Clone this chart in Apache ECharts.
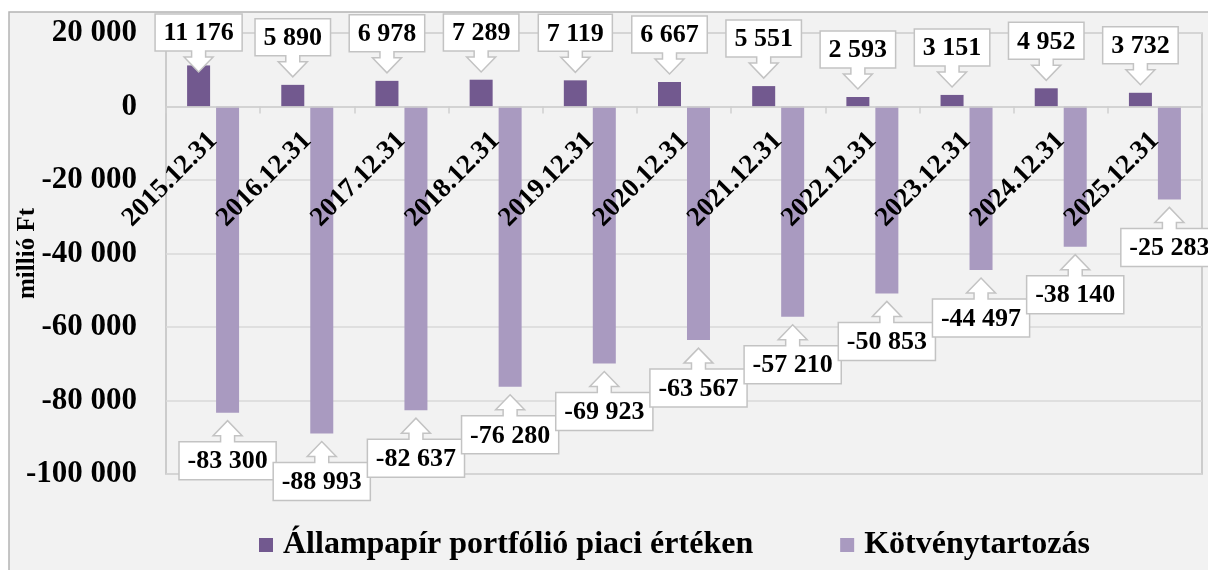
<!DOCTYPE html>
<html><head><meta charset="utf-8">
<script src="https://cdn.jsdelivr.net/npm/echarts@6/dist/echarts.min.js"></script>
<style>html,body{margin:0;padding:0;background:#fff;}#c{width:1208px;height:570px;}</style>
</head><body><div id="c"></div>
<script>
// ---- data ----
const categories = ['2015.12.31','2016.12.31','2017.12.31','2018.12.31','2019.12.31','2020.12.31','2021.12.31','2022.12.31','2023.12.31','2024.12.31','2025.12.31'];
const portfolio = [11176, 5890, 6978, 7289, 7119, 6667, 5551, 2593, 3151, 4952, 3732];
const bonds = [-83300, -88993, -82637, -76280, -69923, -63567, -57210, -50853, -44497, -38140, -25283];
const seriesNames = ['Állampapír portfólió piaci értéken', 'Kötvénytartozás'];
const yMin = -100000, yMax = 20000, yStep = 20000;
const yAxisName = 'millió Ft';

// ---- style ----
const FAM = '"Liberation Serif","Times New Roman",serif';
const C_DARK = '#72598f', C_LIGHT = '#a99ac0';
const BAR_W = 23, BAR_GAP_PCT = 26;
const BAR_OFF = (BAR_W + BAR_W * BAR_GAP_PCT / 100) / 2;
const LBL_FONT = 'bold 26px ' + FAM;
const GRID = { left: 166, right: 6, top: 33, bottom: 96 };
const GRID_H = 570 - GRID.top - GRID.bottom;
// move the category axis (line + labels) to the value 0
const X_OFFSET = -((0 - yMin) / (yMax - yMin)) * GRID_H;

function fmt(v) {
  const s = Math.abs(Math.round(v)).toString().replace(/\B(?=(\d{3})+(?!\d))/g, ' ');
  return (v < 0 ? '-' : '') + s;
}
const mctx = document.createElement('canvas').getContext('2d');
function textW(s) { mctx.font = LBL_FONT; return mctx.measureText(s).width; }

function callout(values, off) {
  return {
    type: 'custom',
    z: 10,
    clip: false,
    silent: true,
    data: values.map((v, i) => [i, v]),
    renderItem: function (params, api) {
      const i = api.value(0), v = api.value(1);
      const p = api.coord([i, v]);
      const cx = p[0] + off;
      const label = fmt(v);
      const w = textW(label) + 17;
      const H = 37, stemH = 6, headH = 15, sH = 7, hH = 14.5, gap = 8;
      let pts, ty;
      if (v >= 0) {
        let tip = p[1] - gap;
        let bb = tip - headH - stemH;
        let bt = bb - H;
        if (bt < 14) { const d = 14 - bt; tip += d; bb += d; bt += d; }
        const ht = tip - headH;
        pts = [[cx - w / 2, bt], [cx + w / 2, bt], [cx + w / 2, bb], [cx + sH, bb], [cx + sH, ht], [cx + hH, ht], [cx, tip],
               [cx - hH, ht], [cx - sH, ht], [cx - sH, bb], [cx - w / 2, bb]];
        ty = (bt + bb) / 2 + 1;
      } else {
        const tip = p[1] + gap;
        const hb = tip + headH;
        const bt = hb + stemH;
        const bb = bt + H + 1;
        pts = [[cx - w / 2, bb], [cx + w / 2, bb], [cx + w / 2, bt], [cx + sH, bt], [cx + sH, hb], [cx + hH, hb], [cx, tip],
               [cx - hH, hb], [cx - sH, hb], [cx - sH, bt], [cx - w / 2, bt]];
        ty = (bt + bb) / 2 + 1;
      }
      return {
        type: 'group',
        children: [
          { type: 'polygon', shape: { points: pts }, style: { fill: '#fff', stroke: '#c3c3c3', lineWidth: 1.5 } },
          { type: 'text', style: { text: label, x: cx, y: ty, align: 'center', verticalAlign: 'middle', font: LBL_FONT, fill: '#000' } }
        ]
      };
    }
  };
}

const chart = echarts.init(document.getElementById('c'), null, { renderer: 'canvas' });
chart.setOption({
  backgroundColor: '#ffffff',
  animation: false,
  graphic: [
    { type: 'rect', z: -100, shape: { x: 9, y: 12, width: 1260, height: 620 }, style: { fill: '#f2f2f2', stroke: '#b4b4b4', lineWidth: 1.5 } }
  ],
  grid: { left: GRID.left, right: GRID.right, top: GRID.top, bottom: GRID.bottom, outerBoundsMode: 'none', containLabel: false,
          show: true, borderColor: '#c0c0c0', borderWidth: 1.5, backgroundColor: 'transparent' },
  legend: {
    data: seriesNames,
    left: 254, top: 524,
    itemWidth: 14, itemHeight: 14, itemGap: 87,
    icon: 'rect',
    textStyle: { fontFamily: FAM, fontWeight: 'bold', fontSize: 32, color: '#000', padding: [0, 0, 0, 5] }
  },
  xAxis: {
    type: 'category',
    data: categories,
    offset: X_OFFSET,
    z: 5,
    axisLine: { onZero: false, lineStyle: { color: '#cfcfcf', width: 1.5 } },
    axisTick: { show: true, length: 7, lineStyle: { color: '#cfcfcf', width: 1.5 } },
    axisLabel: { interval: 0, rotate: 45, margin: 30, fontFamily: FAM, fontWeight: 'bold', fontSize: 27, color: '#000' },
    splitLine: { show: false }
  },
  yAxis: {
    type: 'value',
    min: yMin, max: yMax, interval: yStep,
    name: yAxisName, nameLocation: 'middle', nameRotate: 90, nameGap: 126, nameMoveOverlap: false,
    nameTextStyle: { fontFamily: FAM, fontWeight: 'bold', fontSize: 25, color: '#000' },
    axisLine: { show: false },
    axisTick: { show: false },
    axisLabel: { margin: 29, fontFamily: FAM, fontWeight: 'bold', fontSize: 31, color: '#000', formatter: fmt },
    splitLine: { lineStyle: { color: '#d9d9d9', width: 1.5 } }
  },
  series: [
    { name: seriesNames[0], type: 'bar', data: portfolio, barWidth: BAR_W, barGap: BAR_GAP_PCT + '%', itemStyle: { color: C_DARK } },
    { name: seriesNames[1], type: 'bar', data: bonds, barWidth: BAR_W, barGap: BAR_GAP_PCT + '%', itemStyle: { color: C_LIGHT } },
    callout(portfolio, -BAR_OFF),
    callout(bonds, BAR_OFF)
  ]
});
</script>
</body></html>
